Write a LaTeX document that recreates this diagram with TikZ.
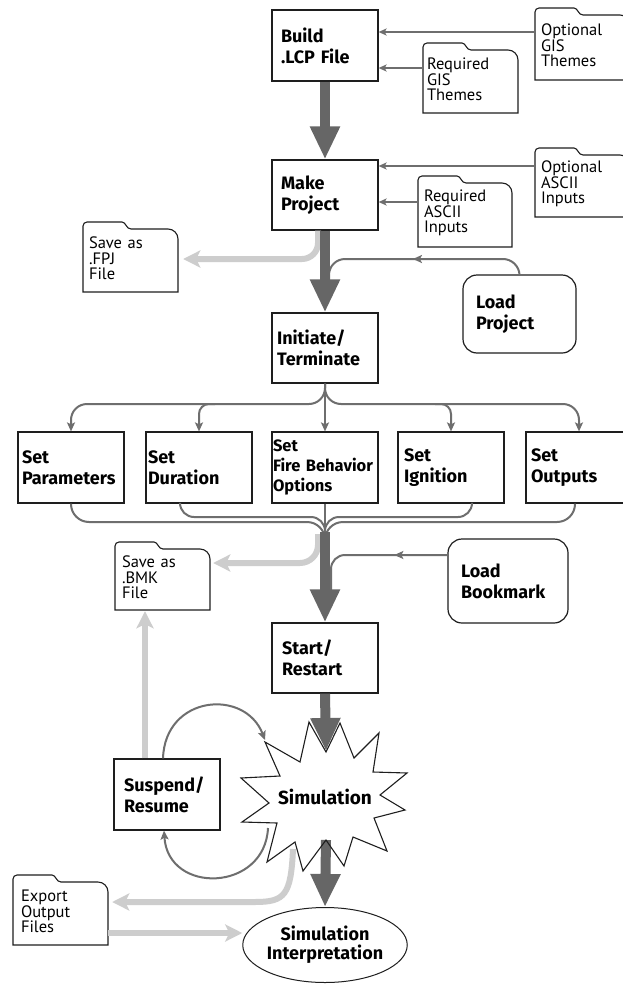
\documentclass[tikz,border=0pt]{standalone}
\usepackage{fontspec}
\setmainfont{PT Sans}
\newfontfamily\bfam{Fira Sans}
\usetikzlibrary{arrows.meta,shapes.geometric,decorations.markings,calc}
\definecolor{dk}{HTML}{666666}
\definecolor{cgray}{HTML}{6E6E6E}
\definecolor{lt}{HTML}{CDCDCD}
\definecolor{edge}{HTML}{1E1E1E}
\newcommand{\foldshape}[5]{%
  \filldraw[folderline]
   ({#1-#3/2},{#2+#4/2}) -- ({#1-#3/2},{#2-#4/2-3})
   arc[start angle=180,end angle=90,radius=4pt]
   -- ({#1-#3/2+#5-6},{#2-#4/2-7})
   .. controls ({#1-#3/2+#5-2},{#2-#4/2-7}) and ({#1-#3/2+#5-2},{#2-#4/2}) .. ({#1-#3/2+#5+3},{#2-#4/2})
   -- ({#1+#3/2-10},{#2-#4/2})
   arc[start angle=90,end angle=0,radius=10pt]
   -- ({#1+#3/2},{#2+#4/2}) -- cycle;}
\newcommand{\fold}[7]{%
  \foldshape{#2}{#3}{#4}{#5}{45}
  \node[folder, minimum width=#4, minimum height=#5, text width=#6] (#1) at (#2,#3) {#7};}
\tikzset{
  box/.style={draw=edge, line width=1.2pt, fill=white, minimum width=106pt, minimum height=71pt,
    inner sep=0pt, align=left, font=\bfam\bfseries\fontsize{18}{21}\selectfont},
  rbox/.style={box, rounded corners=14pt},
  folder/.style={inner sep=0pt, align=left, font=\fontsize{16.5}{15.5}\selectfont, yshift=2pt},
  folderline/.style={draw=edge, line width=1.1pt, fill=white},
  fat/.style={draw=dk, line width=10pt, -{Triangle[width=28pt,length=33pt]}},
  thinarr/.style={draw=cgray, line width=2pt, -{Stealth[width=8pt,length=9pt,inset=2pt]}},
  smallarr/.style={draw=cgray, line width=1.5pt, -{Stealth[width=7pt,length=8pt,inset=2pt]}},
  thinline/.style={draw=cgray, line width=2pt},
  light/.style={draw=lt, line width=6pt, -{Stealth[width=17pt,length=17pt,inset=4pt]}},
  midarr/.style={postaction={decorate}, decoration={markings,
    mark=at position #1 with {\arrow[color=cgray]{Stealth[width=8pt,length=9pt,inset=2pt]}}}}
}
\begin{document}
\begin{tikzpicture}[x=1pt,y=-1pt]
\useasboundingbox (0,0) rectangle (623,985);
\clip (0,0) rectangle (623,985);
\fill[white] (0,0) rectangle (623,985);

% folders
\fold{optgis}{582.5}{47.5}{95}{65}{83pt}{Optional\\GIS\\Themes}
\fold{reqgis}{470.5}{81.5}{95}{63}{87pt}{Required\\GIS\\Themes}
\fold{optascii}{582.5}{186}{95}{62}{83pt}{Optional\\ASCII\\Inputs}
\fold{reqascii}{465}{215}{94}{64}{82pt}{Required\\ASCII\\Inputs}
\fold{fpj}{130.5}{260.5}{95}{63}{83pt}{Save as\\.FPJ\\File}
\fold{bmk}{162.5}{579.5}{95}{61}{81pt}{Save as\\.BMK\\File}
\fold{export}{60.5}{913.5}{95}{63}{79pt}{Export\\Output\\Files}

% boxes
\node[box, text width=88pt] (build) at (325,45.5) {Build\\.LCP File};
\node[box, text width=88pt, minimum height=70pt] (make) at (325,195) {Make\\Project};
\node[box, text width=96pt, minimum height=70pt] (init) at (325,348) {Initiate/\\Terminate};
\node[box, text width=98pt] (setpar) at (71,467.5) {Set\\Parameters};
\node[box, text width=102pt] (setdur) at (199,467.5) {Set\\Duration};
\node[box, text width=104pt, font=\bfam\bfseries\fontsize{16.5}{20}\selectfont] (setfire) at (325,467.5) {Set\\\mbox{Fire Behavior}\\Options};
\node[box, text width=94pt] (setign) at (451,467.5) {Set\\Ignition};
\node[box, text width=96pt] (setout) at (579,467.5) {Set\\Outputs};
\node[rbox, minimum width=113pt, minimum height=78pt, text width=87pt] (lp) at (519.5,314) {Load\\Project};
\node[rbox, minimum width=120pt, minimum height=84pt, text width=94pt] (lb) at (508,581) {Load\\Bookmark};
\node[box, text width=86pt, minimum height=70pt] (start) at (325,658) {Start/\\Restart};
\node[box, text width=86pt] (suspend) at (167,794.5) {Suspend/\\Resume};
\node[draw=edge, line width=1pt, ellipse, fill=white, minimum width=164pt, minimum height=75pt,
  inner sep=0pt, align=center, font=\bfam\bfseries\fontsize{18}{19}\selectfont] (interp) at (325,945) {Simulation\\Interpretation};

% star
\fill[white] (265,742) -- (300,762) -- (309,722) -- (326,752) -- (340,723) -- (354,758) -- (379,733) -- (373,772)
  -- (407,773) -- (380,795) -- (405,810) -- (374,818) -- (387,851) -- (353,837) -- (344,866) -- (326,840)
  -- (303,871) -- (295,842) -- (267,862) -- (277,823) -- (242,822) -- (269,803) -- (241,778) -- (280,776) -- cycle;
\coordinate (simtop) at (326,751);
\coordinate (simbot) at (326,840);
\coordinate (simtl) at (265,740);
\coordinate (simlo) at (268,828);
\coordinate (expfrom) at (293,849);
\coordinate (merge) at (325,532);
\coordinate (bmkfrom) at (318,534);

% connectors from folders
\draw[smallarr] (optgis.west |- 0,32) -- (build.east |- 0,32);
\draw[smallarr] (reqgis.west |- 0,68) -- (build.east |- 0,68);
\draw[smallarr] (optascii.west |- 0,166) -- (make.east |- 0,166);
\draw[smallarr] (reqascii.west |- 0,202) -- (make.east |- 0,202);

% light gray
\draw[light, shorten >=5pt, rounded corners=16pt] ([xshift=-7pt]make.south) -- (318,259) -- (fpj.east |- 0,259);
\draw[light, shorten >=3pt, rounded corners=18pt] (bmkfrom) -- (318,563) -- (bmk.east |- 0,563);
\draw[light, shorten >=3pt] ([xshift=-22pt]suspend.north) -- ([xshift=-22pt]suspend.north |- bmk.south);
\draw[light, shorten >=4pt] (expfrom) .. controls (291,895) and (285,902) .. (255,902) -- (export.east |- 0,902);
\draw[light] (export.east |- 0,933) -- (interp.west |- 0,933);

% thin branches
\draw[thinarr, rounded corners=16pt] (init.south) -- (325,404) -- (71,404) -- (setpar.north);
\draw[thinarr, rounded corners=16pt] (init.south) -- (325,404) -- (579,404) -- (setout.north);
\draw[thinarr] (init.south) -- (setfire.north);
\draw[thinarr, rounded corners=10pt] (215,404) -- (199,404) -- (setdur.north);
\draw[thinarr, rounded corners=10pt] (435,404) -- (451,404) -- (setign.north);

\draw[thinline, rounded corners=18pt] (setpar.south) -- (71,522) -- (325,522) -- (325,560);
\draw[thinline, rounded corners=14pt] ([xshift=-19pt]setdur.south) -- (180,517) -- (325,517) -- (325,560);
\draw[thinline, rounded corners=14pt] ([xshift=21pt]setign.south) -- (472,517) -- (325,517) -- (325,560);
\draw[thinline, rounded corners=18pt] ([xshift=-4pt]setout.south) -- (575,522) -- (325,522) -- (325,560);
\draw[thinline] (setfire.south) -- (merge);

\draw[thinline, midarr=0.5, rounded corners=16pt] (lp.north) -- (519,259) -- (329,259) -- (329,298);
\draw[thinline, midarr=0.36, rounded corners=14pt] (lb.west |- 0,555) -- (331,555) -- (331,592);

% loops
\draw[thinarr] ([xshift=-4pt]suspend.north) .. controls (165,695) and (245,688) .. (simtl);
\draw[thinarr] (simlo) .. controls (265,892) and (168,895) .. ([xshift=-3pt]suspend.south);

% thick arrows
\draw[fat] (build.south) -- (make.north);
\draw[fat] (make.south) -- (init.north);
\draw[fat] (merge) -- (start.north);
\draw[fat] (start.south) -- (simtop);
\draw[fat] (simbot) -- (interp.north);

% star outline + label
\draw[edge, line width=1.1pt, line join=miter] (265,742) -- (300,762) -- (309,722) -- (326,752) -- (340,723) -- (354,758) -- (379,733) -- (373,772)
  -- (407,773) -- (380,795) -- (405,810) -- (374,818) -- (387,851) -- (353,837) -- (344,866) -- (326,840)
  -- (303,871) -- (295,842) -- (267,862) -- (277,823) -- (242,822) -- (269,803) -- (241,778) -- (280,776) -- cycle;
\node[inner sep=0pt, font=\bfam\bfseries\fontsize{19}{21}\selectfont] (sim) at (325,797) {Simulation};
\end{tikzpicture}
\end{document}
